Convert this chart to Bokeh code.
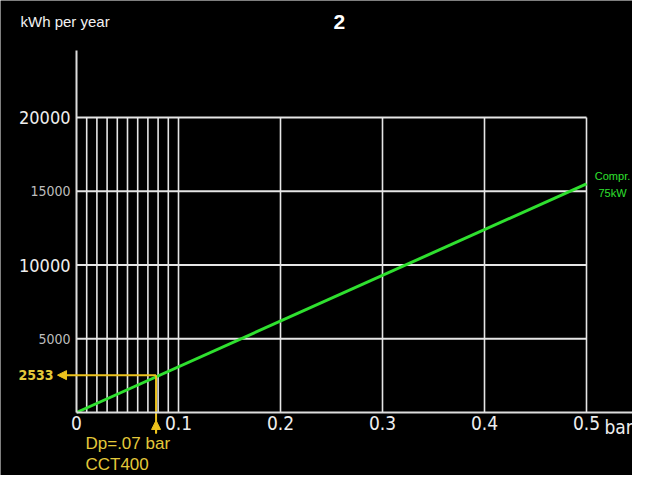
from bokeh.plotting import figure
from bokeh.models import Range1d, LinearAxis, FixedTicker, Arrow, NormalHead
from bokeh.core.properties import value
from bokeh.embed import file_html
from bokeh.resources import INLINE

# ---- data ----
pressure = [0.0, 0.5]                 # bar
energy = [0.0, 15500.0]               # kWh per year
x_ticks = [0, 0.1, 0.2, 0.3, 0.4, 0.5]
x_fine_grid = [0.01, 0.02, 0.03, 0.04, 0.05, 0.06, 0.07, 0.08, 0.09]
x_major_grid = [0.1, 0.2, 0.3, 0.4, 0.5]
y_big_ticks = [10000, 20000]
y_small_ticks = [5000, 15000]
y_grid = [5000, 10000, 15000, 20000]
dp_x = 0.078                          # where the Dp arrow sits
dp_kwh = 2533
series_label = ["Compr.", "75kW"]

NARROW = "'DejaVu Sans Condensed', 'Liberation Sans', sans-serif"
SANS = "Liberation Sans"
YEL_LINE = "#ecc21c"
YEL_TEXT = "#e4c93a"
GREEN = "#2fe02f"
GRID = "#e6e6e6"

p = figure(width=632, height=475, output_backend="svg", toolbar_location=None,
           x_range=Range1d(-0.074510, 0.545098), y_range=Range1d(-4271, 27932),
           background_fill_color="black", border_fill_color="black",
           min_border=0, outline_line_color=None)
p.xgrid.visible = False
p.ygrid.visible = False

# x axis
xa = p.xaxis[0]
xa.fixed_location = 0
xa.bounds = (0, 0.545)
xa.ticker = FixedTicker(ticks=x_ticks)
xa.axis_line_color = "#dddddd"
xa.axis_line_width = 2
xa.major_tick_line_color = None
xa.minor_tick_line_color = None
xa.major_tick_out = 0
xa.major_tick_in = 0
xa.major_label_standoff = 3
xa.major_label_text_font = NARROW
xa.major_label_text_font_size = "19px"
xa.major_label_text_color = "#eeeeee"

# y axis (big labels)
ya = p.yaxis[0]
ya.fixed_location = 0
ya.bounds = (0, 24542)
ya.ticker = FixedTicker(ticks=y_big_ticks)
ya.axis_line_color = "#dddddd"
ya.axis_line_width = 2
ya.major_tick_line_color = None
ya.minor_tick_line_color = None
ya.major_tick_out = 0
ya.major_tick_in = 0
ya.major_label_standoff = 6
ya.major_label_text_font = NARROW
ya.major_label_text_font_size = "18px"
ya.major_label_text_color = "#eeeeee"

# y axis (small grey labels)
ya2 = LinearAxis(ticker=FixedTicker(ticks=y_small_ticks), fixed_location=0,
                 axis_line_color=None, major_tick_line_color=None,
                 minor_tick_line_color=None, major_tick_out=0, major_tick_in=0,
                 major_label_standoff=6, major_label_text_font=NARROW,
                 major_label_text_font_size="14px",
                 major_label_text_color="#bdbdbd")
p.add_layout(ya2, "left")

# grid lines (bounded like the reference)
p.segment(x0=x_fine_grid, y0=[0] * len(x_fine_grid), x1=x_fine_grid,
          y1=[max(y_grid)] * len(x_fine_grid), line_color=GRID, line_width=1.6)
p.segment(x0=x_major_grid, y0=[0] * len(x_major_grid), x1=x_major_grid,
          y1=[max(y_grid)] * len(x_major_grid), line_color=GRID, line_width=1.6)
p.segment(x0=[0] * len(y_grid), y0=y_grid, x1=[max(x_major_grid)] * len(y_grid),
          y1=y_grid, line_color=GRID, line_width=1.8)

# series
p.line(pressure, energy, line_color=GREEN, line_width=3)
p.text(x=[pressure[-1] + 0.0255, pressure[-1] + 0.0255],
       y=[energy[-1] + 500, energy[-1] - 585], text=series_label,
       text_color=GREEN, text_font=value(SANS), text_font_size="11px",
       text_align="center", text_baseline="middle")

# Dp annotation
p.segment(x0=[dp_x], y0=[-1424], x1=[dp_x], y1=[dp_kwh],
          line_color=YEL_LINE, line_width=2)
p.add_layout(Arrow(x_start=dp_x, y_start=-1424, x_end=dp_x, y_end=-542,
                   line_color=YEL_LINE, line_width=2,
                   end=NormalHead(size=9, fill_color=YEL_LINE, line_color=YEL_LINE)))
p.add_layout(Arrow(x_start=dp_x, y_start=dp_kwh, x_end=-0.0186, y_end=dp_kwh,
                   line_color=YEL_LINE, line_width=2,
                   end=NormalHead(size=9, fill_color=YEL_LINE, line_color=YEL_LINE)))
p.text(x=[-0.0225], y=[dp_kwh], text=[str(dp_kwh)], text_color=YEL_TEXT,
       text_font=value(NARROW), text_font_style="bold", text_font_size="14px",
       text_align="right", text_baseline="middle")
p.text(x=[0.0088, 0.0088], y=[-2102, -3525], text=["Dp=.07 bar", "CCT400"],
       text_color=YEL_TEXT, text_font=value(SANS), text_font_size="17px",
       text_align="left", text_baseline="middle")

# unit and titles
p.text(x=[0.5176], y=[0], y_offset=[3], text=["bar"], text_color="#eeeeee",
       text_font=value(NARROW), text_font_size="19px", text_align="left",
       text_baseline="top")
p.text(x=[-0.0549], y=[26508], text=["kWh per year"], text_color="#f2f2f2",
       text_font=value(SANS), text_font_size="15px", text_align="left",
       text_baseline="middle")
p.text(x=[0.2578], y=[26508], text=["2"], text_color="white",
       text_font=value(SANS), text_font_style="bold", text_font_size="21px",
       text_align="center", text_baseline="middle")

open("out.html", "w").write(file_html(p, INLINE))
